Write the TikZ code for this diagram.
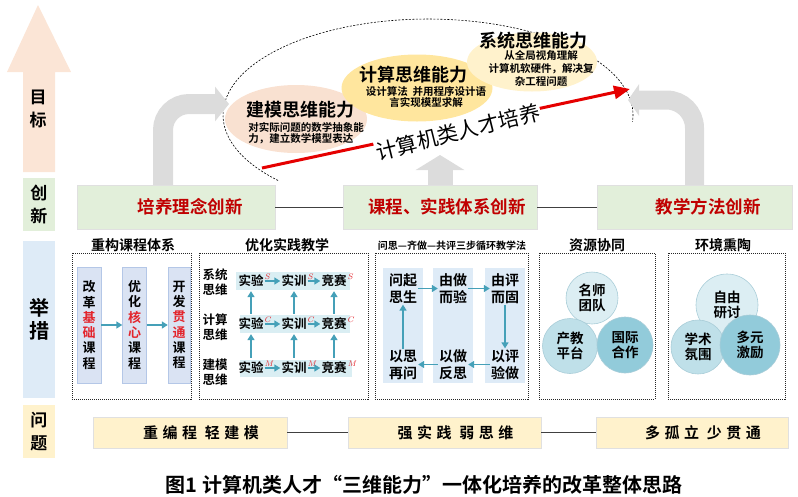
\documentclass[tikz,border=0pt]{standalone}
\usepackage{fontspec}
\setmainfont{Noto Sans CJK SC}[BoldFont={Noto Sans CJK SC Bold}]
\newfontfamily\widefont{Noto Sans CJK SC}[LetterSpace=30,BoldFont={Noto Sans CJK SC Bold}]
\usetikzlibrary{arrows.meta,shapes.geometric}

\definecolor{peach}{HTML}{FBE5D6}
\definecolor{lgreen}{HTML}{E2EFDA}
\definecolor{lblue}{HTML}{DEEBF7}
\definecolor{lyellow}{HTML}{FFF2CC}
\definecolor{darkred}{HTML}{C00000}
\definecolor{hired}{HTML}{E3242B}
\definecolor{arrteal}{HTML}{45A0B8}
\definecolor{colblue}{HTML}{DAE3F3}
\definecolor{colline}{HTML}{B4C7E7}
\definecolor{bandblue}{HTML}{DAEEF3}
\definecolor{cirone}{HTML}{DCEEF3}
\definecolor{cirtwo}{HTML}{BFE0E9}
\definecolor{cirthree}{HTML}{92CBDA}
\definecolor{cirline}{HTML}{A9CDD8}
\definecolor{ellpeach}{HTML}{F9E1D1}
\definecolor{ellgold}{HTML}{FFE69E}
\definecolor{ellcream}{HTML}{FFF2CC}
\definecolor{grayarr}{HTML}{DCDCDC}

\newcommand{\redch}[1]{\textcolor{hired}{#1}}

\tikzset{
	side/.style={minimum width=32pt, inner sep=0pt, align=center, font=\bfseries\fontsize{17}{23.5}\selectfont},
	inno/.style={fill=lgreen, draw=black!12, minimum width=198pt, minimum height=44pt, text=darkred, font=\bfseries\fontsize{17.5}{20}\selectfont},
	prob/.style={fill=lyellow, draw=black!12, minimum height=31pt, font=\widefont\bfseries\fontsize{15}{16}\selectfont},
	link/.style={draw=black!75, line width=0.7pt},
	head/.style={font=\bfseries\fontsize{14}{16}\selectfont},
	frame/.style={draw=black!85, densely dotted, line width=1pt, minimum height=146pt},
	col/.style={fill=colblue, draw=colline, minimum width=24pt, minimum height=116pt, inner sep=0pt, align=center, font=\bfseries\fontsize{13}{15.3}\selectfont},
	rowlab/.style={align=center, inner sep=0pt, font=\bfseries\fontsize{12.5}{14.5}\selectfont},
	band/.style={fill=bandblue, minimum height=18pt},
	item/.style={inner sep=1pt, font=\bfseries\fontsize{12.5}{14}\selectfont},
	sup/.style={anchor=north west, inner sep=0pt, text=hired, font=\fontsize{8}{8}\selectfont},
	qcol/.style={fill=lblue, minimum width=40pt, minimum height=115pt},
	qtxt/.style={align=center, inner sep=1pt, font=\bfseries\fontsize{14}{17}\selectfont},
	circ/.style={circle, draw=cirline, line width=0.6pt, align=center, inner sep=0pt, font=\bfseries\fontsize{13.5}{15.5}\selectfont},
	ell/.style={ellipse, inner sep=0pt},
	etitle/.style={inner sep=1pt, font=\bfseries\fontsize{18}{20}\selectfont},
	edesc/.style={inner sep=1pt, font=\bfseries\fontsize{10.5}{11.5}\selectfont},
	tarr/.style={draw=arrteal, line width=1.8pt, -{Triangle[length=6pt,width=7pt]}},
	vtarr/.style={tarr, shorten >=3pt, shorten <=3pt},
	garrow/.style={draw=grayarr},
	redarr/.style={draw=red!90!black, line width=3pt, -{Triangle[length=16pt,width=13pt]}}
}

\begin{document}
\begin{tikzpicture}[x=1pt,y=-1pt]
	\useasboundingbox (0,0) rectangle (798,496);

	\fill[peach] (23,172) -- (23,72) -- (7,72) -- (38,5) -- (71,72) -- (55,72) -- (55,172) -- cycle;
	\node (mb)[side] at (38,109) {目\\标};
	\node (cx)[side, fill=lgreen, minimum height=53pt] at (39,204.5) {创\\新};
	\node (jc)[side, fill=lblue, minimum height=157pt, font=\bfseries\fontsize{20}{23}\selectfont] at (39,319.5) {举\\措};
	\node (wt)[side, fill=lyellow, minimum height=53pt] at (39,431.5) {问\\题};

	\draw [dashed, dash pattern=on 2pt off 1.5pt, line width=0.6pt] (278.1,180.5) arc[start angle=137, end angle=364, x radius=205, y radius=96];

	\node (i1)[inno] at (176,207) {\hspace*{28pt}培养理念创新};
	\node (i2)[inno, minimum width=194pt] at (440,207) {\hspace*{14pt}课程、实践体系创新};
	\node (i3)[inno, minimum width=195pt] at (694.5,207) {\hspace*{27pt}教学方法创新};
	\draw [link](i1)--(i2);
	\draw [link](i2)--(i3);

	\coordinate (g1) at (229,104);
	\coordinate (g2) at (440,155);
	\coordinate (g3) at (628,100);
	\draw [garrow, line width=20pt, rounded corners=26pt, -{Triangle[length=14pt,width=34pt]}]([xshift=-13pt]i1.north) |- (g1);
	\draw [garrow, line width=25pt, -{Triangle[length=15pt,width=48pt]}](i2.north) -- (g2);
	\draw [garrow, line width=19pt, rounded corners=28pt, -{Triangle[length=11pt,width=31pt]}](i3.north) |- (g3);

	\node (jm)[ell, fill=ellpeach, minimum width=142pt, minimum height=68pt] at (296,119) {};
	\node (js)[ell, fill=ellgold, minimum width=151pt, minimum height=67pt] at (417,88) {};
	\node (xt)[ell, fill=ellcream, minimum width=130pt, minimum height=59pt] at (532,62) {};
	\node (jmt)[etitle] at (300,110) {建模思维能力};
	\node (jmd)[edesc, align=left] at (306,133) {对实际问题的数学抽象能\\力，建立数学模型表达};
	\node (jst)[etitle] at (413,74.5) {计算思维能力};
	\node (jsd)[edesc, align=center] at (426,97) {设计算法\ \ 并用程序设计语\\言实现模型求解};
	\node (xtt)[etitle] at (533,40.5) {系统思维能力};
	\node (xtd)[edesc, align=center, font=\bfseries\fontsize{10.5}{13.3}\selectfont] at (541,68.5) {从全局视角理解\\计算机软硬件，解决复\\杂工程问题};

	\coordinate (ra) at (262,168);
	\coordinate (rb) at (630,89);
	\draw [redarr](ra)--(rb);
	\node (rc)[rotate=14, fill=white, inner sep=1pt, font=\mdseries\fontsize{21}{22}\selectfont] at (458,132) {计算机类人才培养};

	\node (h1)[head] at (133,245) {重构课程体系};
	\node (h2)[head] at (287,245) {优化实践教学};
	\node (h3)[head, font=\bfseries\fontsize{10}{12}\selectfont] at (452,246) {问思—齐做—共评三步循环教学法};
	\node (h4)[head] at (597,245) {资源协同};
	\node (h5)[head] at (723,245) {环境熏陶};

	\node (f1)[frame, minimum width=119pt] at (131.5,326) {};
	\node (f2)[frame, minimum width=169pt] at (283.5,326) {};
	\node (f3)[frame, minimum width=153pt] at (451.5,326) {};
	\node (f4)[frame, minimum width=116pt] at (597,326) {};
	\node (f5)[frame, minimum width=117pt] at (726.5,326) {};

	\node (col1)[col] at (89,325) {改\\革\\\redch{基}\\\redch{础}\\课\\程};
	\node (col2)[col] at (134.5,325) {优\\化\\\redch{核}\\\redch{心}\\课\\程};
	\node (col3)[col, minimum width=22pt] at (179,325) {开\\发\\\redch{贯}\\\redch{通}\\课\\程};
	\draw [tarr](col1)--(col2);
	\draw [tarr](col2)--(col3);

	\node (r1)[rowlab] at (215,282) {系统\\思维};
	\node (r2)[rowlab] at (215,327) {计算\\思维};
	\node (r3)[rowlab] at (215,372) {建模\\思维};
	\node (bd1)[band, minimum width=114pt] at (293,281) {};
	\node (bd2)[band, minimum width=110pt] at (295,324) {};
	\node (bd3)[band, minimum width=112pt, minimum height=17pt] at (296,368.5) {};
	\node (xs1)[item, label={[sup]north east:$S$}] at (251,281) {实验};
	\node (xs2)[item, label={[sup]north east:$S$}] at (294,281) {实训};
	\node (xs3)[item, label={[sup]north east:$S$}] at (334,281) {竞赛};
	\node (js1)[item, label={[sup]north east:$C$}] at (251,324) {实验};
	\node (js2)[item, label={[sup]north east:$C$}] at (294,324) {实训};
	\node (js3)[item, label={[sup]north east:$C$}] at (334,324) {竞赛};
	\node (jm1)[item, label={[sup]north east:$M$}] at (251,368) {实验};
	\node (jm2)[item, label={[sup]north east:$M$}] at (294,368) {实训};
	\node (jm3)[item, label={[sup]north east:$M$}] at (334,368) {竞赛};
	\draw [tarr](xs1)--(xs2);
	\draw [tarr](xs2)--(xs3);
	\draw [tarr](js1)--(js2);
	\draw [tarr](js2)--(js3);
	\draw [tarr](jm1)--(jm2);
	\draw [tarr](jm2)--(jm3);
	\draw [vtarr](js1)--(xs1);
	\draw [vtarr](js2)--(xs2);
	\draw [vtarr](js3)--(xs3);
	\draw [vtarr](jm1)--(js1);
	\draw [vtarr](jm2)--(js2);
	\draw [vtarr](jm3)--(js3);

	\node (q1)[qcol] at (403,325.5) {};
	\node (q2)[qcol] at (453,325.5) {};
	\node (q3)[qcol] at (505,325.5) {};
	\node (t1)[qtxt] at (403,288.5) {问起\\思生};
	\node (t2)[qtxt] at (453,288.5) {由做\\而验};
	\node (t3)[qtxt] at (505,288.5) {由评\\而固};
	\node (b1)[qtxt] at (403,364.5) {以思\\再问};
	\node (b2)[qtxt] at (453,364.5) {以做\\反思};
	\node (b3)[qtxt] at (505,364.5) {以评\\验做};
	\draw [tarr](t1)--(t2);
	\draw [tarr](t2)--(t3);
	\draw [tarr](t3)--(b3);
	\draw [tarr](b3)--(b2);
	\draw [tarr](b2)--(b1);
	\draw [tarr](b1)--(t1);

	\node (ms)[circ, fill=cirone, minimum size=52pt] at (592,298) {名师\\团队};
	\node (cj)[circ, fill=cirtwo, minimum size=55pt] at (570,346) {产教\\平台};
	\node (gj)[circ, fill=cirthree, minimum size=56pt] at (625,345) {国际\\合作};
	\node (zy)[circ, fill=cirone, minimum size=62pt] at (727,305) {自由\\研讨};
	\node (xs)[circ, fill=cirtwo, minimum size=54pt] at (698,347) {学术\\氛围};
	\node (dy)[circ, fill=cirthree, minimum size=60pt] at (750,345) {多元\\激励};

	\node (p1)[prob, minimum width=194pt] at (190,432.5) {\hspace*{22pt}重编程\ 轻建模};
	\node (p2)[prob, minimum width=193pt] at (444.5,432.5) {\hspace*{22pt}强实践\ 弱思维};
	\node (p3)[prob, minimum width=192pt] at (692,432.5) {\hspace*{22pt}多孤立\ 少贯通};
	\draw [link](p1)--(p2);
	\draw [link](p2)--(p3);

	\node (cap)[font=\bfseries\fontsize{20}{22}\selectfont] at (424,485) {图1 计算机类人才“三维能力”一体化培养的改革整体思路};
\end{tikzpicture}
\end{document}
